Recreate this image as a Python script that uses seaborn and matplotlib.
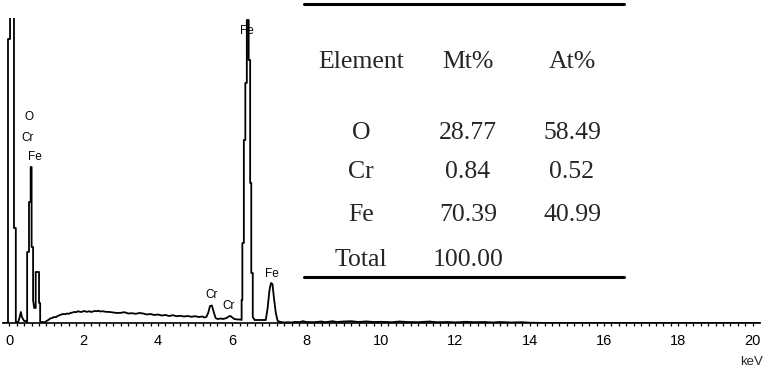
import numpy as np
import pandas as pd
import matplotlib
matplotlib.use("Agg")
import matplotlib.pyplot as plt
from matplotlib.lines import Line2D
import seaborn as sns

# EDS spectrum (energy in keV, counts in arbitrary units)
energy = [-0.17, -0.035, -0.035, 0.02, 0.02, 0.126, 0.126, 0.175, 0.175,
          0.24, 0.28, 0.31, 0.34, 0.40, 0.45, 0.48, 0.48, 0.53, 0.53, 0.575, 0.575,
          0.60, 0.60, 0.64, 0.64, 0.67, 0.71, 0.71, 0.80, 0.80, 0.83, 0.83,
          0.90, 0.95, 1.00, 1.05, 1.10, 1.15, 1.20, 1.25, 1.30, 1.35, 1.40, 1.45,
          1.50, 1.55, 1.60, 1.65, 1.70, 1.75, 1.80, 1.85, 1.90, 1.95, 2.00, 2.05,
          2.10, 2.15, 2.20, 2.25, 2.30, 2.35, 2.40, 2.45, 2.50, 2.60, 2.70, 2.80,
          2.90, 3.00, 3.10, 3.20, 3.30, 3.40, 3.50, 3.60, 3.70, 3.80, 3.90, 4.00,
          4.10, 4.20, 4.30, 4.40, 4.50, 4.60, 4.70, 4.80, 4.90, 5.00, 5.10, 5.20,
          5.25, 5.30, 5.35, 5.40, 5.45, 5.50, 5.55, 5.60, 5.70, 5.75, 5.80, 5.85,
          5.90, 5.95, 6.00, 6.05, 6.10, 6.15, 6.21,
          6.25, 6.25, 6.27, 6.27, 6.31, 6.31, 6.35, 6.35, 6.39, 6.39, 6.44, 6.44,
          6.48, 6.48, 6.51, 6.51, 6.55, 6.55, 6.60, 6.70, 6.80, 6.90,
          6.95, 7.00, 7.04, 7.08, 7.12, 7.17, 7.22, 7.30, 7.40, 7.50, 7.60, 7.70,
          7.80, 7.90, 8.00, 8.20, 8.40, 8.50, 8.70, 8.80, 9.00, 9.20, 9.40, 9.60,
          9.80, 10.0, 10.3, 10.5, 10.7, 11.0, 11.3, 11.5, 11.8, 12.0, 12.3, 12.5,
          12.8, 13.0, 13.2, 13.5, 13.8, 14.0, 14.5, 20.2]
counts = [0, 0, 2840, 2840, 9000, 9000, 950, 950, 10,
          10, 60, 110, 60, 20, 20, 10, 710, 710, 1210, 1210, 1560,
          1560, 760, 760, 230, 150, 150, 510, 510, 200, 200, 10,
          10, 5, 20, 30, 45, 50, 60, 58, 70, 78, 85, 90,
          88, 95, 92, 100, 105, 110, 108, 118, 112, 110, 120, 115,
          112, 118, 110, 115, 120, 118, 122, 115, 118, 112, 110, 105,
          100, 102, 108, 95, 98, 92, 100, 95, 85, 90, 80, 85,
          75, 80, 70, 78, 68, 72, 65, 70, 62, 68, 60, 65,
          55, 60, 100, 170, 175, 110, 50, 40, 45, 40, 45, 50,
          65, 70, 55, 40, 38, 35, 35,
          30, 230, 230, 800, 800, 1830, 1830, 2400, 2400, 3030, 3030, 2630,
          2630, 1400, 1400, 500, 500, 60, 30, 30, 30, 30,
          150, 330, 400, 390, 250, 100, 20, 10, 5, 8, 5, 12,
          8, 18, 10, 8, 15, 8, 18, 10, 15, 18, 10, 16,
          10, 12, 8, 15, 10, 8, 15, 8, 10, 6, 12, 8,
          10, 5, 10, 5, 8, 3, 0, 0]

# peak labels: text, energy, counts
peak_labels = ["O", "Cr", "Fe", "Fe", "Cr", "Cr", "Fe"]
peak_x = [0.52, 0.50, 0.69, 6.39, 5.44, 5.91, 7.06]
peak_y = [2060, 1850, 1660, 2920, 280, 170, 490]

# composition table
elements = ["O", "Cr", "Fe", "Total"]
mt_pct = ["28.77", "0.84", "70.39", "100.00"]
at_pct = ["58.49", "0.52", "40.99", ""]

df = pd.DataFrame({"energy": energy, "counts": counts})

sns.set_theme(style="white")
plt.rcParams["font.family"] = ["Liberation Sans", "DejaVu Sans"]

W, H = 765, 371
fig = plt.figure(figsize=(W / 100, H / 100), dpi=100)
ax = fig.add_axes([0, 48 / H, 1, 305 / H])

sns.lineplot(data=df, x="energy", y="counts", sort=False, estimator=None,
             color="black", lw=1.3, ax=ax)

ax.set_xlim(-9.3 / 37.17, (W - 9.3) / 37.17)
ax.set_ylim(0, 3050)
for s in ["top", "left", "right"]:
    ax.spines[s].set_visible(False)
ax.spines["bottom"].set_color("black")
ax.spines["bottom"].set_linewidth(1.2)
ax.spines["bottom"].set_bounds(-0.17, 20.2)
ax.set_yticks([])
ax.set_xticks(np.arange(0, 21, 2))
ax.set_xticklabels([str(v) for v in range(0, 21, 2)])
ax.set_xticks(np.arange(0, 20.01, 0.2), minor=True)
ax.tick_params(axis="x", which="both", direction="out", length=2.5, width=0.9,
               color="black", bottom=True, labelsize=10.5, pad=5.5, labelcolor="black")
ax.set_xlabel("")
ax.set_ylabel("")

for t, x, y in zip(peak_labels, peak_x, peak_y):
    ax.text(x, y, t, ha="center", va="center", fontsize=8.5, color="black")

fig.text(752 / W, 1 - 362 / H, "keV", ha="center", va="center", fontsize=9.5)


def fx(px):
    return px / W


def fy(py):
    return 1 - py / H


# table rules
for py in [4, 277]:
    fig.add_artist(Line2D([fx(304), fx(624)], [fy(py), fy(py)],
                          color="black", lw=2.2))

serif = ["Liberation Serif", "DejaVu Serif"]
col_x = [361, 468, 572]
for txt, cx in zip(["Element", "Mt%", "At%"], col_x):
    fig.text(fx(cx), fy(62), txt, ha="center", va="center", fontsize=18.5,
             family=serif)
row_y = [133, 172, 215, 260]
for el, mt, at, ry in zip(elements, mt_pct, at_pct, row_y):
    fig.text(fx(col_x[0]), fy(ry), el, ha="center", va="center", fontsize=18.5, family=serif)
    fig.text(fx(col_x[1]), fy(ry), mt, ha="center", va="center", fontsize=18.5, family=serif)
    fig.text(fx(col_x[2]), fy(ry), at, ha="center", va="center", fontsize=18.5, family=serif)

fig.savefig("out.png", dpi=100)
